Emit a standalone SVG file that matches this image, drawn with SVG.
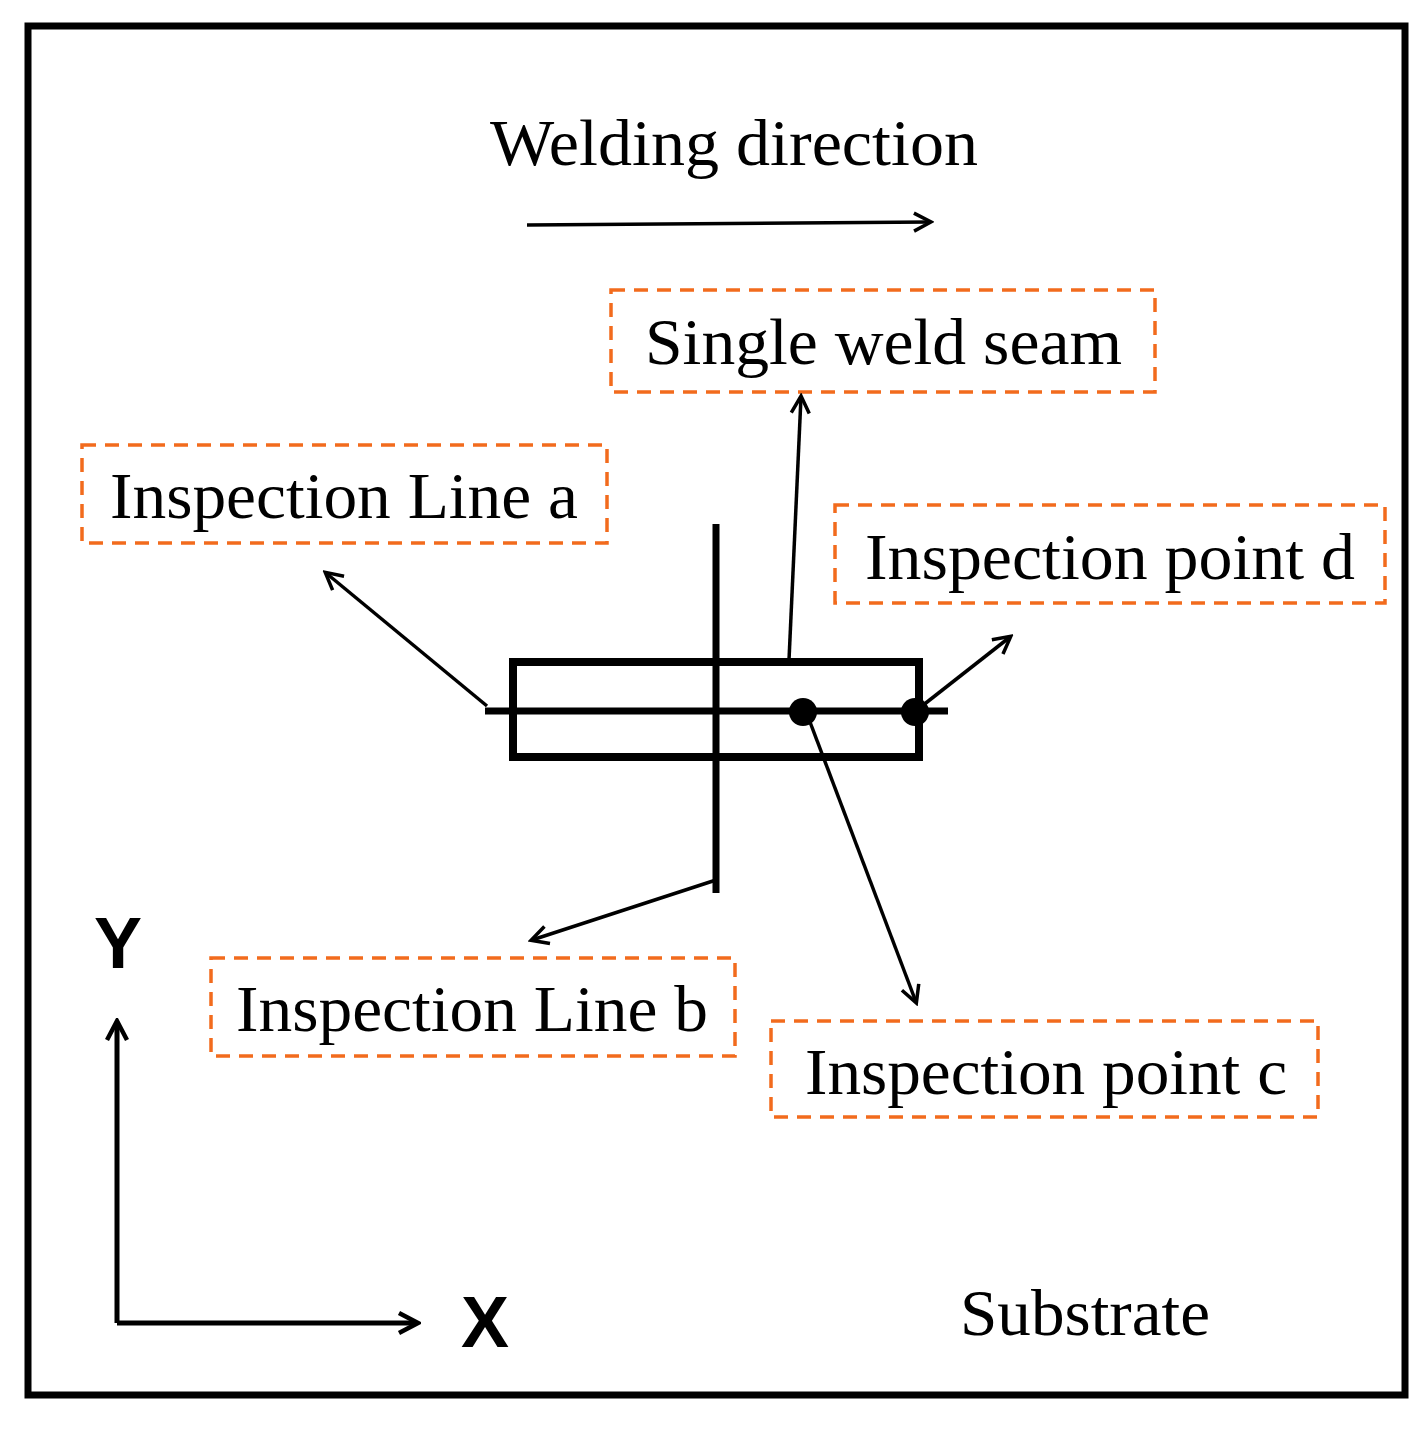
<svg xmlns="http://www.w3.org/2000/svg" width="1423" height="1430" viewBox="0 0 1423 1430">
<style>
.lbl{fill:none;stroke:#f26b1d;stroke-width:3.5;stroke-dasharray:14 9}
.t{font-family:"Liberation Serif",serif;font-size:66px;fill:#000}
.ax{font-family:"Liberation Sans",Arial,sans-serif;font-weight:bold;font-size:72px;fill:#000}
.c{stroke:#000;stroke-width:3.5;fill:none;marker-end:url(#a)}
</style>
<defs><marker id="a" markerWidth="22" markerHeight="22" refX="18" refY="11" orient="auto" markerUnits="userSpaceOnUse"><path d="M2,2 L19,11 L2,20" fill="none" stroke="#000" stroke-width="3.5"/></marker>
<marker id="b" markerWidth="24" markerHeight="24" refX="20" refY="12" orient="auto" markerUnits="userSpaceOnUse"><path d="M2,2 L21,12 L2,22" fill="none" stroke="#000" stroke-width="4.5"/></marker></defs>
<rect width="1423" height="1430" fill="#fff"/>
<rect x="28" y="26" width="1377" height="1369" fill="none" stroke="#000" stroke-width="7"/>
<g id="title"><text class="t" x="490" y="165" textLength="488" lengthAdjust="spacingAndGlyphs">Welding direction</text></g>
<g id="weld">
<rect x="513" y="662" width="406" height="95" fill="none" stroke="#000" stroke-width="8"/>
<line x1="485" y1="711" x2="948" y2="711" stroke="#000" stroke-width="7"/>
<line x1="716" y1="524" x2="716" y2="893" stroke="#000" stroke-width="7"/>
<circle cx="803" cy="712" r="14"/><circle cx="915" cy="712" r="14"/>
</g>
<g id="seam"><rect class="lbl" x="611" y="290" width="544" height="102"/><text class="t" x="645" y="364" textLength="477" lengthAdjust="spacingAndGlyphs">Single weld seam</text></g>
<g id="linea"><rect class="lbl" x="82" y="445" width="525" height="98"/><text class="t" x="110" y="518" textLength="468" lengthAdjust="spacingAndGlyphs">Inspection Line a</text></g>
<g id="pointd"><rect class="lbl" x="835" y="505" width="550" height="98"/><text class="t" x="865" y="579" textLength="490" lengthAdjust="spacingAndGlyphs">Inspection point d</text></g>
<g id="lineb"><rect class="lbl" x="211" y="958" width="524" height="98"/><text class="t" x="236" y="1031" textLength="472" lengthAdjust="spacingAndGlyphs">Inspection Line b</text></g>
<g id="pointc"><rect class="lbl" x="771" y="1021" width="547" height="96"/><text class="t" x="805" y="1094" textLength="482" lengthAdjust="spacingAndGlyphs">Inspection point c</text></g>
<g id="axes">
<text class="ax" x="118" y="968" text-anchor="middle">Y</text>
<text class="ax" x="485" y="1347" text-anchor="middle">X</text>
<text class="t" x="960" y="1335" textLength="250" lengthAdjust="spacingAndGlyphs">Substrate</text>
</g>
<g id="connectors">
<line class="c" x1="527" y1="225" x2="930" y2="222"/>
<line class="c" x1="487" y1="706" x2="326" y2="573"/>
<line class="c" x1="789" y1="660" x2="801" y2="397"/>
<line class="c" x1="922" y1="706" x2="1010" y2="637"/>
<line class="c" x1="716" y1="880" x2="532" y2="940"/>
<line class="c" x1="810" y1="722" x2="916" y2="1002"/>
<polyline points="117,1323 117,1022" fill="none" stroke="#000" stroke-width="5" marker-end="url(#b)"/>
<polyline points="117,1323 417,1323" fill="none" stroke="#000" stroke-width="5" marker-end="url(#b)"/>
</g>
</svg>
